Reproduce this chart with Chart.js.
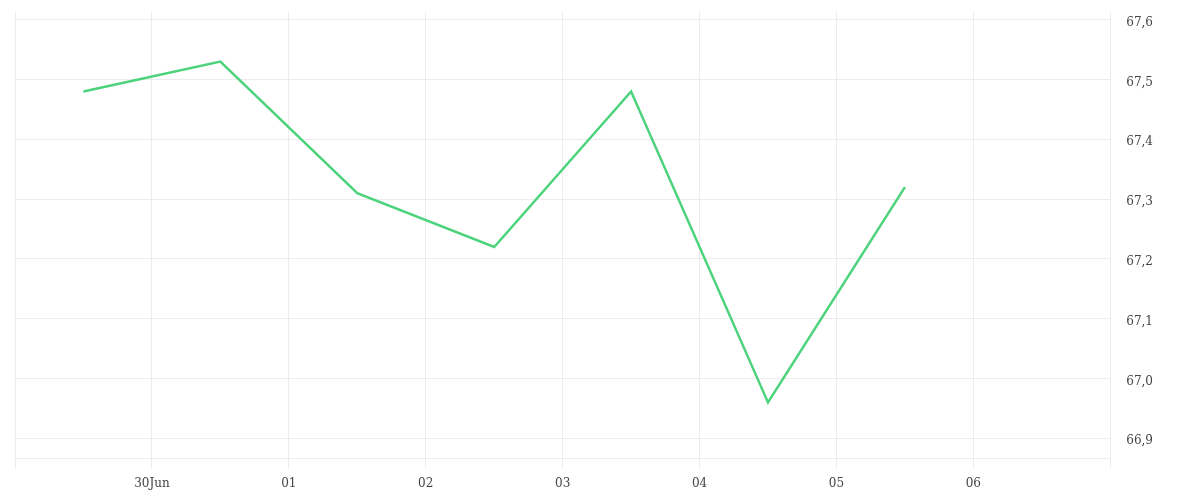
<!DOCTYPE html>
<html>
<head>
<meta charset="utf-8">
<style>
  html, body { margin: 0; padding: 0; background: #fff; }
  #wrap { width: 1200px; height: 500px; position: relative; }
</style>
<script src="https://cdn.jsdelivr.net/npm/chart.js"></script>
</head>
<body>
<div id="wrap"><canvas id="chart"></canvas></div>
<script>
// days from 29 Jun 00:00, each point sits at midday
const dayPositions = [0.5, 1.5, 2.5, 3.5, 4.5, 5.5, 6.5];
const prices = [67.48, 67.53, 67.31, 67.22, 67.48, 66.96, 67.32];
// label for each day boundary (0 = 29 Jun ... 8 = 7 Jul)
const dayLabels = ['', '30Jun', '01', '02', '03', '04', '05', '06', ''];
const priceTicks = [66.9, 67.0, 67.1, 67.2, 67.3, 67.4, 67.5, 67.6];

const gridColor = '#ececec';
const textColor = '#444';

const ctx = document.getElementById('chart').getContext('2d');
new Chart(ctx, {
    type: 'line',
    data: {
        datasets: [{
            data: dayPositions.map((x, i) => ({ x: x, y: prices[i] })),
            borderColor: '#4cd37b',
            borderWidth: 2.5,
            pointRadius: 0,
            fill: false,
            tension: 0
        }]
    },
    options: {
        responsive: true,
        maintainAspectRatio: false,
        animation: false,
        layout: {
            padding: { top: 12, left: 15, right: 31, bottom: 1 }
        },
        plugins: {
            legend: { display: false },
            tooltip: { enabled: false }
        },
        scales: {
            x: {
                type: 'linear',
                min: 0,
                max: 8,
                afterBuildTicks: axis => {
                    axis.ticks = dayLabels.map((_, i) => ({ value: i }));
                },
                afterFit: axis => {
                    axis.paddingLeft = 0;
                    axis.paddingRight = 0;
                },
                grid: {
                    color: gridColor,
                    tickLength: 10,
                    drawTicks: true
                },
                border: { color: gridColor },
                ticks: {
                    autoSkip: false,
                    maxRotation: 0,
                    color: textColor,
                    padding: 8,
                    font: { family: 'DejaVu Serif', size: 12 },
                    callback: v => dayLabels[v]
                }
            },
            y: {
                position: 'right',
                min: 66.866,
                max: 67.613,
                afterBuildTicks: axis => {
                    axis.ticks = priceTicks.map(v => ({ value: v }));
                },
                afterFit: axis => {
                    axis.paddingTop = 0;
                    axis.paddingBottom = 0;
                },
                grid: {
                    color: gridColor,
                    drawTicks: false
                },
                border: { color: gridColor },
                ticks: {
                    color: textColor,
                    padding: 16,
                    labelOffset: 3,
                    font: { family: 'DejaVu Serif', size: 12 },
                    callback: v => v.toFixed(1).replace('.', ',')
                }
            }
        }
    }
});
</script>
</body>
</html>
